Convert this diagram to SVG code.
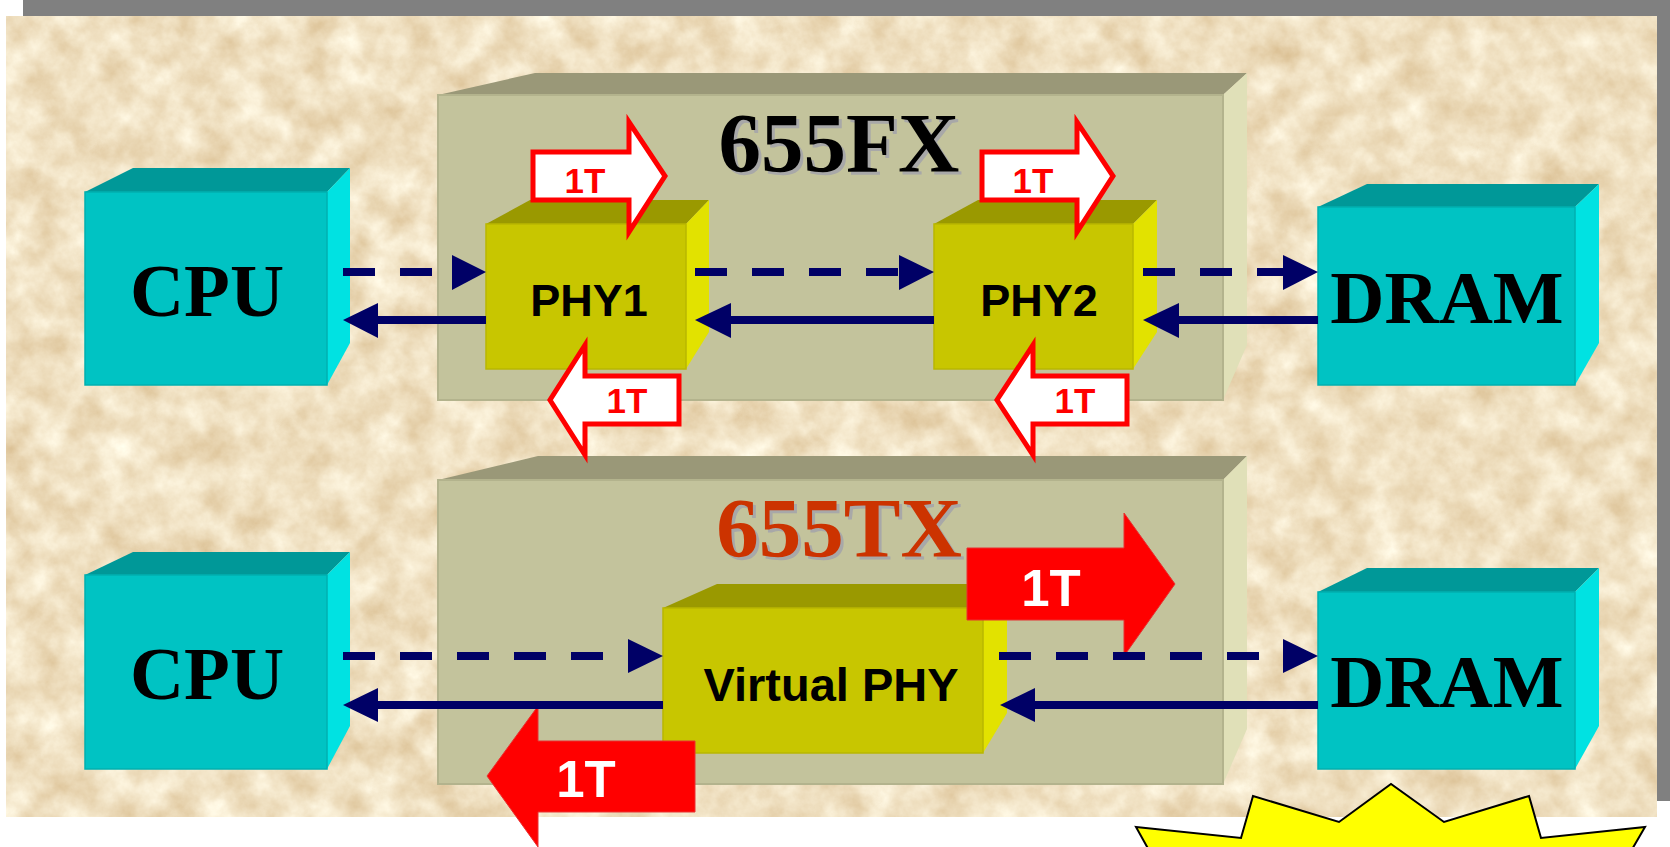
<svg xmlns="http://www.w3.org/2000/svg" width="1670" height="847" viewBox="0 0 1670 847">
<defs>
<filter id="tex" x="0" y="0" width="100%" height="100%" color-interpolation-filters="sRGB">
<feTurbulence type="fractalNoise" baseFrequency="0.03" numOctaves="5" seed="7"/>
<feColorMatrix type="matrix" values="0.18 0 0 0 0.85  0.28 0 0 0 0.74  0.4 0 0 0 0.56  0 0 0 0 1"/>
</filter>
<style>
.cpuF{fill:#00C3C3;stroke:#00B0B0;stroke-width:1.5}
.cpuT{fill:#009898}
.cpuR{fill:#00E2E2}
.phyF{fill:#C8C600;stroke:#B9B700;stroke-width:1.5}
.phyT{fill:#9A9900}
.phyR{fill:#E2E200}
.boxF{fill:#C3C39C;stroke:#B3B38D;stroke-width:2}
.boxT{fill:#9A9878}
.boxR{fill:#E0E0B8}
.big{font-family:"Liberation Serif","Times New Roman",serif;font-weight:bold;font-size:75px;text-anchor:middle;fill:#000}
.title{font-family:"Liberation Serif","Times New Roman",serif;font-weight:bold;font-size:85px;text-anchor:middle}
.lbl{font-family:"Liberation Sans",Arial,sans-serif;font-weight:bold;text-anchor:middle;fill:#000}
.t1{font-family:"Liberation Sans",Arial,sans-serif;font-weight:bold;font-size:35px;text-anchor:middle;fill:#FF0000}
.t1w{font-family:"Liberation Sans",Arial,sans-serif;font-weight:bold;font-size:51px;text-anchor:middle;fill:#FFFFFF}
.oarr{fill:#FFFFFF;stroke:#FF0000;stroke-width:5;stroke-linejoin:miter}
.farr{fill:#FF0000;stroke:#E83030;stroke-width:1}
.dash{stroke:#000066;stroke-width:8;stroke-dasharray:32 25;fill:none}
.solid{stroke:#000066;stroke-width:8;fill:none}
.head{fill:#000066}
</style>
</defs>
<rect x="0" y="0" width="1670" height="847" fill="#FFFFFF"/>
<rect x="23" y="0" width="1647" height="801" fill="#808080"/>
<rect x="6" y="16" width="1651" height="801" filter="url(#tex)"/>

<g id="chip655FX">
<polygon class="boxT" points="438,95 535,73 1247,73 1223,95"/>
<polygon class="boxR" points="1223,95 1247,73 1247,345 1223,400"/>
<rect class="boxF" x="438" y="95" width="785" height="305"/>
<text class="title" x="842" y="175" fill="#A8A8A8">655FX</text>
<text class="title" x="839" y="172" fill="#000000">655FX</text>
</g>
<g id="chip655TX">
<polygon class="boxT" points="438,480 538,456 1247,456 1223,480"/>
<polygon class="boxR" points="1223,480 1247,456 1247,729 1223,784"/>
<rect class="boxF" x="438" y="480" width="785" height="304"/>
<text class="title" x="842" y="560" fill="#A8A8A8">655TX</text>
<text class="title" x="839" y="557" fill="#CC3300">655TX</text>
</g>

<g id="cpu1">
<polygon class="cpuT" points="85,192 133,168 350,168 327,192"/>
<polygon class="cpuR" points="327,192 350,168 350,343 327,385"/>
<rect class="cpuF" x="85" y="192" width="242" height="193"/>
<text class="big" x="207" y="316">CPU</text>
</g>
<g id="dram1">
<polygon class="cpuT" points="1318,207 1367,184 1599,184 1575,207"/>
<polygon class="cpuR" points="1575,207 1599,184 1599,343 1575,385"/>
<rect class="cpuF" x="1318" y="207" width="257" height="178"/>
<text class="big" x="1447" y="323">DRAM</text>
</g>
<g id="phy1">
<polygon class="phyT" points="486,224 530,200 709,200 686,224"/>
<polygon class="phyR" points="686,224 709,200 709,332 686,369"/>
<rect class="phyF" x="486" y="224" width="200" height="145"/>
<text class="lbl" x="589" y="316" font-size="45">PHY1</text>
</g>
<g id="phy2">
<polygon class="phyT" points="934,224 978,200 1157,200 1133,224"/>
<polygon class="phyR" points="1133,224 1157,200 1157,332 1133,369"/>
<rect class="phyF" x="934" y="224" width="199" height="145"/>
<text class="lbl" x="1039" y="316" font-size="45">PHY2</text>
</g>
<g id="cpu2">
<polygon class="cpuT" points="85,575 133,552 350,552 327,575"/>
<polygon class="cpuR" points="327,575 350,552 350,726 327,769"/>
<rect class="cpuF" x="85" y="575" width="242" height="194"/>
<text class="big" x="207" y="699">CPU</text>
</g>
<g id="dram2">
<polygon class="cpuT" points="1318,592 1367,568 1599,568 1575,592"/>
<polygon class="cpuR" points="1575,592 1599,568 1599,726 1575,769"/>
<rect class="cpuF" x="1318" y="592" width="257" height="177"/>
<text class="big" x="1447" y="707">DRAM</text>
</g>
<g id="vphy">
<polygon class="phyT" points="663,608 717,584 1007,584 983,608"/>
<polygon class="phyR" points="983,608 1007,584 1007,713 983,753"/>
<rect class="phyF" x="663" y="608" width="320" height="145"/>
<text class="lbl" x="831" y="701" font-size="47">Virtual PHY</text>
</g>

<g id="delay1">
<path class="oarr" d="M533,152 H629 V122 L665,176 L629,232 V200 H533 Z"/>
<text class="t1" x="585" y="193">1T</text>
</g>
<g id="delay2">
<path class="oarr" d="M679,376 H585 V345 L550,400 L585,455 V424 H679 Z"/>
<text class="t1" x="627" y="413">1T</text>
</g>
<g id="delay3">
<path class="oarr" d="M982,152 H1077 V122 L1113,176 L1077,232 V200 H982 Z"/>
<text class="t1" x="1033" y="193">1T</text>
</g>
<g id="delay4">
<path class="oarr" d="M1127,376 H1033 V345 L997,400 L1033,455 V424 H1127 Z"/>
<text class="t1" x="1075" y="413">1T</text>
</g>
<g id="delay5">
<path class="farr" d="M967,548 H1124 V513 L1175,584 L1124,656 V620 H967 Z"/>
<text class="t1w" x="1051" y="606">1T</text>
</g>
<g id="delay6">
<path class="farr" d="M695,741 H538 V706 L487,776 L538,847 V812 H695 Z"/>
<text class="t1w" x="586" y="797">1T</text>
</g>

<g id="connectors">
<line class="dash" x1="343" y1="272" x2="452" y2="272"/>
<polygon class="head" points="452,255 486,272 452,290"/>
<line class="dash" x1="695" y1="272" x2="899" y2="272"/>
<polygon class="head" points="899,255 934,272 899,290"/>
<line class="dash" x1="1143" y1="272" x2="1283" y2="272"/>
<polygon class="head" points="1283,255 1318,272 1283,290"/>
<line class="solid" x1="486" y1="320" x2="376" y2="320"/>
<polygon class="head" points="378,303 343,320 378,338"/>
<line class="solid" x1="934" y1="320" x2="729" y2="320"/>
<polygon class="head" points="731,303 695,320 731,338"/>
<line class="solid" x1="1318" y1="320" x2="1177" y2="320"/>
<polygon class="head" points="1179,303 1143,320 1179,338"/>
<line class="dash" x1="343" y1="656" x2="628" y2="656"/>
<polygon class="head" points="628,639 663,656 628,673"/>
<line class="dash" x1="999" y1="656" x2="1283" y2="656"/>
<polygon class="head" points="1283,639 1318,656 1283,673"/>
<line class="solid" x1="663" y1="705" x2="376" y2="705"/>
<polygon class="head" points="378,688 343,705 378,722"/>
<line class="solid" x1="1318" y1="705" x2="1033" y2="705"/>
<polygon class="head" points="1035,688 1000,705 1035,722"/>
</g>

<g id="starburst">
<polygon points="1136,827 1241,838 1253,796 1339,822 1391,784 1444,822 1529,796 1541,838 1645,827 1620,870 1160,870" fill="#FFFF00" stroke="#000000" stroke-width="2" stroke-linejoin="miter"/>
</g>
</svg>
